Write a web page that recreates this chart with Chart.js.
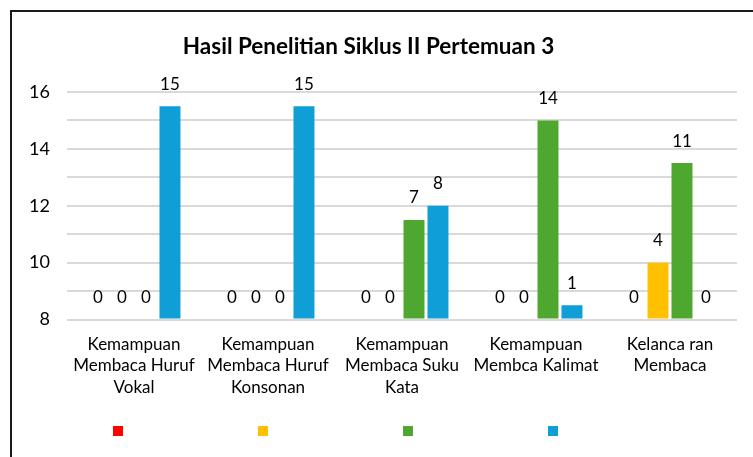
<!DOCTYPE html>
<html lang="id">

<head>
  <meta charset="UTF-8">
  <title>Hasil Penelitian Siklus II Pertemuan 3</title>
  <script src="https://cdn.jsdelivr.net/npm/chart.js"></script>
  <style>
    body {
      margin: 0;
      background: #fff;
      width: 753px;
      height: 457px;
      overflow: hidden;
      position: relative;
      font-family: 'Lato', sans-serif;
    }

    .frame {
      position: absolute;
      left: 10px;
      top: 10px;
      width: 800px;
      height: 500px;
      border-top: 2px solid #1a1a1a;
      border-left: 2px solid #1a1a1a;
    }

    .chart-box {
      position: absolute;
      left: 0;
      top: 0;
      width: 753px;
      height: 457px;
    }

    .legend {
      position: absolute;
      left: 113px;
      top: 426px;
      display: flex;
      gap: 135px;
    }

    .legend span {
      display: block;
      width: 10px;
      height: 10px;
    }
  </style>
</head>

<body>
  <div class="frame"></div>
  <div class="chart-box">
    <canvas id="hasilChart"></canvas>
  </div>
  <div class="legend" id="legend"></div>

  <script>
    const categories = [
      ['Kemampuan', 'Membaca Huruf', 'Vokal'],
      ['Kemampuan', 'Membaca Huruf', 'Konsonan'],
      ['Kemampuan', 'Membaca Suku', 'Kata'],
      ['Kemampuan', 'Membca Kalimat'],
      ['Kelanca ran', 'Membaca']
    ];
    const seriesNames = ['Seri 1', 'Seri 2', 'Seri 3', 'Seri 4'];
    const seriesColors = ['#ff0000', '#ffc000', '#4ea72e', '#0f9ed5'];
    const redValues = [0, 0, 0, 0, 0];
    const yellowValues = [0, 0, 0, 0, 4];
    const greenValues = [0, 0, 7, 14, 11];
    const blueValues = [15, 15, 8, 1, 0];
    // the axis in the picture is labelled 8..16 while bars follow 0..16
    const yTickLabels = ['8', '10', '12', '14', '16'];

    const allSeries = [redValues, yellowValues, greenValues, blueValues];

    // value labels above each bar
    const barLabels = {
      id: 'barLabels',
      afterDatasetsDraw(chart) {
        const ctx = chart.ctx;
        ctx.save();
        ctx.font = '17px Lato';
        ctx.fillStyle = '#000';
        ctx.textAlign = 'center';
        ctx.textBaseline = 'middle';
        chart.data.datasets.forEach((ds, i) => {
          chart.getDatasetMeta(i).data.forEach((bar, j) => {
            ctx.fillText(ds.data[j], bar.x, bar.y - 22);
          });
        });
        ctx.restore();
      }
    };

    const ctx = document.getElementById('hasilChart').getContext('2d');
    const hasilChart = new Chart(ctx, {
      type: 'bar',
      data: {
        labels: categories,
        datasets: allSeries.map((vals, i) => ({
          label: seriesNames[i],
          data: vals,
          backgroundColor: seriesColors[i],
          categoryPercentage: 0.716,
          barPercentage: 0.875,
        })),
      },
      options: {
        responsive: true,
        maintainAspectRatio: false,
        animation: false,
        layout: { padding: { left: 0, right: 16, top: 0, bottom: 0 } },
        plugins: {
          legend: { display: false },
          tooltip: { enabled: false },
          title: {
            display: true,
            text: 'Hasil Penelitian Siklus II Pertemuan 3',
            color: '#000',
            font: { family: 'Lato', size: 22.5, weight: 'bold', lineHeight: 1.2 },
            padding: { top: 33.5, bottom: 31.5 },
          },
        },
        scales: {
          x: {
            grid: { display: false },
            border: { display: false },
            ticks: {
              color: '#000',
              padding: 6,
              maxRotation: 0,
              autoSkip: false,
              font: { family: 'Lato', size: 17, lineHeight: 1.27 },
            },
            afterFit(s) { s.height = 137.5; },
          },
          y: {
            min: 0,
            max: 16,
            border: { display: false },
            grid: { color: '#d9d9d9', lineWidth: 2, drawTicks: false },
            ticks: {
              stepSize: 2,
              color: '#000',
              padding: 17,
              font: { family: 'Lato', size: 18 },
              callback: (v) => (v % 4 === 0 ? yTickLabels[v / 4] : ''),
            },
            afterFit(s) { s.width = 67; },
          },
        },
      },
      plugins: [barLabels],
    });

    const legendEl = document.getElementById('legend');
    hasilChart.data.datasets.forEach((ds) => {
      const box = document.createElement('span');
      box.style.background = ds.backgroundColor;
      box.title = ds.label;
      legendEl.appendChild(box);
    });
  </script>
</body>

</html>
